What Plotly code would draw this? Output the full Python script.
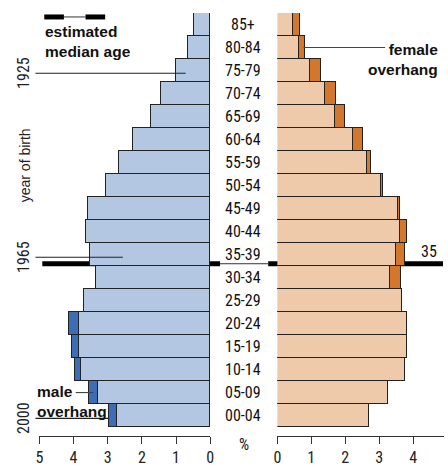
import plotly.graph_objects as go

# ---------------- data ----------------
age_groups = ["00-04", "05-09", "10-14", "15-19", "20-24", "25-29", "30-34", "35-39",
              "40-44", "45-49", "50-54", "55-59", "60-64", "65-69", "70-74", "75-79",
              "80-84", "85+"]
male_pct = [2.96, 3.55, 3.96, 4.03, 4.11, 3.67, 3.32, 3.51, 3.63, 3.57, 3.05, 2.66,
            2.25, 1.72, 1.42, 0.98, 0.64, 0.47]
female_pct = [2.72, 3.27, 3.76, 3.82, 3.83, 3.67, 3.64, 3.76, 3.83, 3.63, 3.11, 2.77,
              2.53, 1.99, 1.73, 1.30, 0.83, 0.68]
x_ticks = [0, 1, 2, 3, 4, 5]
median_age = 35.5
median_label = "35"
survey_year = 2001.9
birth_years = [1925, 1965, 2000]
birth_line_end_px = [185, 121, 107]

W, H = 448, 467
def px(x):
    return x / W
def py(y):
    return 1 - y / H

NARROW = "Liberation Sans Narrow, Roboto Condensed, Arial Narrow, Liberation Sans"
REG = "Liberation Sans, Arial"
BOLD = "Liberation Sans, Arial"

M_LIGHT, M_DARK = "#b3c6e2", "#3d6db4"
F_LIGHT, F_DARK = "#eecaab", "#d2772b"
EDGE = "#222222"

idx = list(range(len(age_groups)))
common = [min(m, f) for m, f in zip(male_pct, female_pct)]
male_over = [round(m - c, 3) if m - c > 0.001 else None for m, c in zip(male_pct, common)]
female_over = [round(f - c, 3) if f - c > 0.001 else None for f, c in zip(female_pct, common)]

def age_to_y(age):
    return age / 5.0 - 0.5

fig = go.Figure()
fig.add_trace(go.Bar(y=idx, x=common, orientation="h", xaxis="x", yaxis="y",
                     marker=dict(color=M_LIGHT, line=dict(color=EDGE, width=1.3)),
                     width=1, showlegend=False, hoverinfo="skip"))
fig.add_trace(go.Bar(y=idx, x=male_over, orientation="h", xaxis="x", yaxis="y",
                     marker=dict(color=M_DARK, line=dict(color=EDGE, width=1.3)),
                     width=1, showlegend=False, hoverinfo="skip"))
fig.add_trace(go.Bar(y=idx, x=common, orientation="h", xaxis="x2", yaxis="y2",
                     marker=dict(color=F_LIGHT, line=dict(color=EDGE, width=1.3)),
                     width=1, showlegend=False, hoverinfo="skip"))
fig.add_trace(go.Bar(y=idx, x=female_over, orientation="h", xaxis="x2", yaxis="y2",
                     marker=dict(color=F_DARK, line=dict(color=EDGE, width=1.3)),
                     width=1, showlegend=False, hoverinfo="skip"))

ydom = [py(428), py(13)]
xpos = py(437)
axis_common = dict(anchor="free", position=xpos, showgrid=False, zeroline=False,
                   showline=True, linecolor="#333", linewidth=1.3,
                   ticks="outside", ticklen=7, tickwidth=1.3, tickcolor="#333",
                   tickvals=x_ticks, ticktext=[str(t) for t in x_ticks],
                   tickfont=dict(family=NARROW, size=16, color="#222"), fixedrange=True)
fig.update_layout(
    width=W, height=H,
    margin=dict(l=0, r=0, t=0, b=0),
    paper_bgcolor="white", plot_bgcolor="rgba(0,0,0,0)",
    barmode="stack", bargap=0,
    xaxis=dict(domain=[px(36), px(210)], range=[5, 0], **axis_common),
    xaxis2=dict(domain=[px(278.3), 1], range=[0, (W - 278.3) / 34.6], **axis_common),
    yaxis=dict(domain=ydom, range=[-0.5, 17.5], anchor="x", visible=False, fixedrange=True),
    yaxis2=dict(domain=ydom, range=[-0.5, 17.5], anchor="x2", visible=False, fixedrange=True),
)

shapes = []
ann = []
# median age line
my = age_to_y(median_age)
shapes.append(dict(type="line", xref="paper", yref="y", x0=px(39), x1=px(220), y0=my, y1=my,
                   line=dict(color="black", width=5), layer="below"))
shapes.append(dict(type="line", xref="paper", yref="y", x0=px(269), x1=px(447), y0=my, y1=my,
                   line=dict(color="black", width=5), layer="below"))
shapes.append(dict(type="line", xref="paper", yref="y", x0=px(220), x1=px(269), y0=my, y1=my,
                   line=dict(color="#333", width=1), layer="above"))
ann.append(dict(xref="paper", yref="y", x=px(433), y=my + 0.55, text=median_label,
                xanchor="center", showarrow=False, font=dict(family=NARROW, size=16, color="#111")))

# legend symbol
shapes.append(dict(type="line", xref="paper", yref="paper", x0=px(41), x1=px(61), y0=py(17), y1=py(17),
                   line=dict(color="black", width=5)))
shapes.append(dict(type="line", xref="paper", yref="paper", x0=px(61), x1=px(83), y0=py(17), y1=py(17),
                   line=dict(color="#333", width=1)))
shapes.append(dict(type="line", xref="paper", yref="paper", x0=px(83), x1=px(103), y0=py(17), y1=py(17),
                   line=dict(color="black", width=5)))
ann.append(dict(xref="paper", yref="paper", x=px(40), y=py(42), xanchor="left", yanchor="middle",
                text="<b>estimated<br>median age</b>", align="left", showarrow=False,
                font=dict(family=BOLD, size=15.5, color="#111")))

# birth-year lines
for yr, xe in zip(birth_years, birth_line_end_px):
    yy = age_to_y(survey_year - yr)
    shapes.append(dict(type="line", xref="paper", yref="y", x0=px(32), x1=px(xe), y0=yy, y1=yy,
                       line=dict(color="#222", width=1.1), layer="above"))
    ann.append(dict(xref="paper", yref="y", x=px(20), y=yy, text=str(yr), textangle=-90,
                    xanchor="center", yanchor="middle",
                    showarrow=False, font=dict(family=NARROW, size=16, color="#222")))
ann.append(dict(xref="paper", yref="paper", x=px(21), y=py(166), text="year of birth", textangle=-90,
                xanchor="center", yanchor="middle",
                showarrow=False, font=dict(family=REG, size=14, color="#222")))

# age labels
for i, lab in zip(idx, age_groups):
    ann.append(dict(xref="paper", yref="y", x=px(243), y=i, text=lab, showarrow=False,
                    xanchor="center", font=dict(family=NARROW, size=16, color="#111")))
ann.append(dict(xref="paper", yref="paper", x=px(244), y=py(457), text="%", showarrow=False,
                xanchor="center", font=dict(family=NARROW, size=16, color="#222")))

# overhang callouts
shapes.append(dict(type="line", xref="paper", yref="y", x0=px(305), x1=px(388), y0=16, y1=16,
                   line=dict(color="#444", width=1.1)))
ann.append(dict(xref="paper", yref="paper", x=px(444), y=py(60), xanchor="right", yanchor="middle",
                text="<b>female<br>overhang</b>", align="right", showarrow=False,
                font=dict(family=BOLD, size=15.5, color="#111")))
shapes.append(dict(type="line", xref="paper", yref="y", x0=px(73), x1=px(91), y0=1, y1=1,
                   line=dict(color="#444", width=1.1)))
ann.append(dict(xref="paper", yref="paper", x=px(32), y=py(402), xanchor="left", yanchor="middle",
                text="<b>male<br>overhang</b>", align="left", showarrow=False,
                font=dict(family=BOLD, size=15.5, color="#111")))

fig.update_layout(shapes=shapes, annotations=ann)
fig.write_html("out.html", config={"displayModeBar": False},
               post_script="document.body.style.margin='0';document.body.style.padding='0';")
